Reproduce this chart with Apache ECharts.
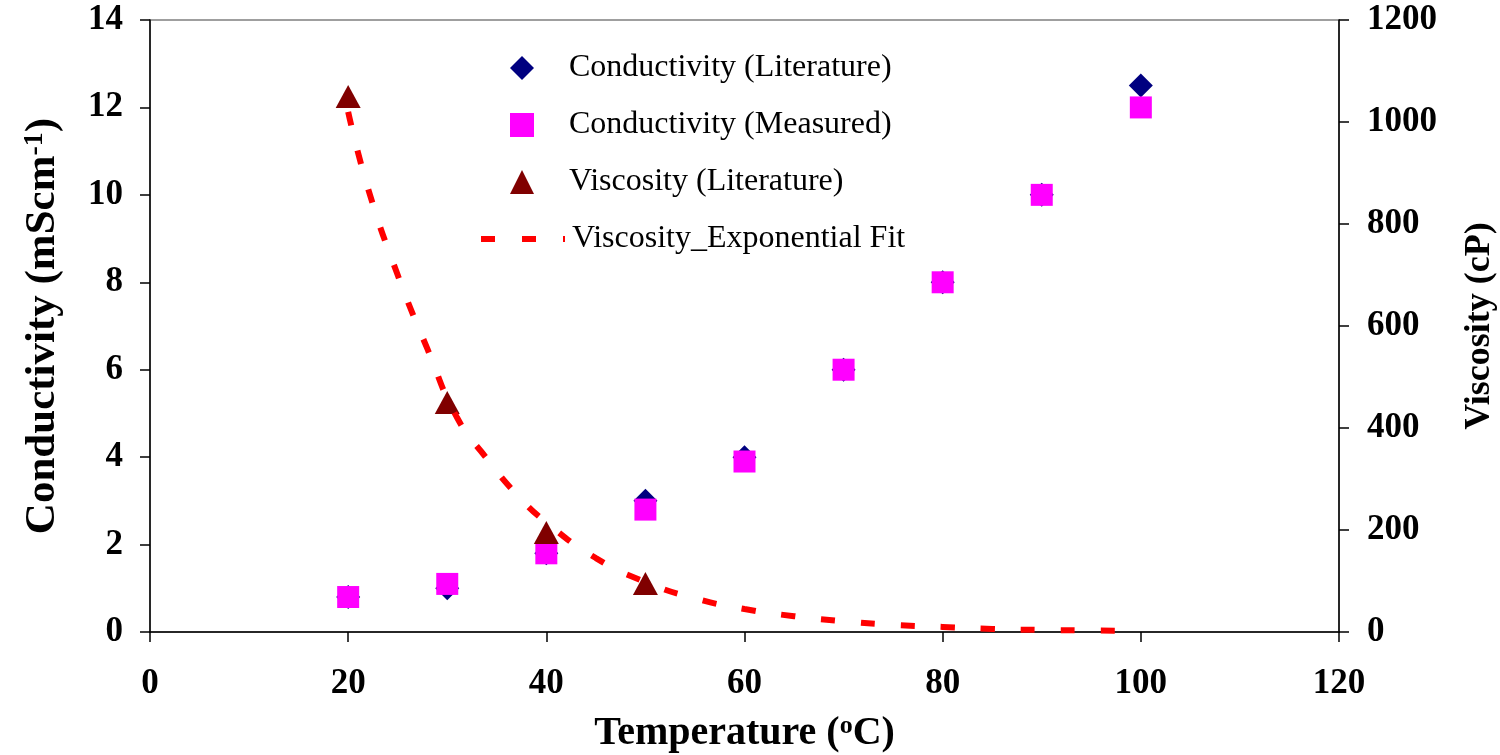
<!DOCTYPE html>
<html>
<head>
<meta charset="utf-8">
<script src="https://cdn.jsdelivr.net/npm/echarts@6/dist/echarts.min.js"></script>
<style>
  html, body { margin: 0; padding: 0; background: #fff; }
  #chart { width: 1500px; height: 755px; }
</style>
</head>
<body>
<div id="chart"></div>
<script>
/* ── Data ─────────────────────────────────────────────────────────── */
const temps = [20, 30, 40, 50, 60, 70, 80, 90, 100];
const condLiterature = [0.8, 1.0, 1.8, 3.0, 4.0, 6.0, 8.0, 10.0, 12.5];
const condMeasured = [0.8, 1.1, 1.8, 2.8, 3.9, 6.0, 8.0, 10.0, 12.0];

const viscTemps = [20, 30, 40, 50];
const viscLiterature = [1050, 450, 195, 95];

// fitted curve
const fitTemps = [20, 22, 25, 28, 31, 34, 37, 40, 45, 50, 55, 60, 65, 70, 75, 80, 85, 90, 95, 99];
const fitValues = [1020, 870, 700, 555, 420, 340, 270, 215, 145, 98, 66, 45, 31, 21, 14, 10, 6, 4, 3, 2];

const xTicks = { min: 0, max: 120, interval: 20 };
const yLeftTicks = { min: 0, max: 14, interval: 2 };
const yRightTicks = { min: 0, max: 1200, interval: 200 };

const scatterNames = ['Conductivity (Literature)', 'Conductivity (Measured)', 'Viscosity (Literature)'];
const fitName = 'Viscosity_Exponential Fit';

/* ── Helpers ──────────────────────────────────────────────────────── */
const FONT = "'Liberation Serif', 'Times New Roman', serif";
const pairs = (xs, ys) => xs.map((x, i) => [x, ys[i]]);

const axisCommon = {
    axisLine: { show: true, lineStyle: { color: '#000', width: 1.5 } },
    axisTick: { show: true, inside: false, length: 10, lineStyle: { color: '#000', width: 1.5 } },
    splitLine: { show: false },
    axisLabel: { color: '#000', fontFamily: FONT, fontWeight: 'bold', fontSize: 35 },
    nameTextStyle: { color: '#000', fontFamily: FONT, fontWeight: 'bold', fontSize: 38 }
};

const richTitle = (size) => ({
    n: { fontFamily: FONT, fontWeight: 'bold', fontSize: size, color: '#000' },
    s: { fontFamily: FONT, fontWeight: 'bold', fontSize: Math.round(size * 0.65), color: '#000', verticalAlign: 'top', padding: [0, 0, 16, 0] }
});

const legendText = { fontFamily: FONT, fontSize: 32, color: '#000', lineHeight: 34 };

const chart = echarts.init(document.getElementById('chart'), null, { renderer: 'canvas' });

chart.setOption({
    backgroundColor: '#fff',
    animation: false,
    grid: {
        left: 150, right: 161, top: 20, bottom: 123,
        containLabel: false,
        outerBoundsMode: 'none',
        show: true, borderColor: '#808080', borderWidth: 1.5, backgroundColor: 'transparent'
    },
    legend: [
        {
            orient: 'vertical',
            left: 505, top: 46,
            itemWidth: 24, itemHeight: 24, itemGap: 23,
            textStyle: { ...legendText, padding: [0, 0, 0, 30] },
            data: scatterNames
        },
        {
            orient: 'vertical',
            left: 476, top: 217,
            itemWidth: 84, itemHeight: 6,
            textStyle: { ...legendText, padding: [0, 0, 0, 2] },
            data: [{
                name: fitName,
                icon: 'path://M0,0 L14,0 L14,6 L0,6 Z M41,0 L55,0 L55,6 L41,6 Z M82,0 L84,0 L84,6 L82,6 Z'
            }]
        }
    ],
    xAxis: {
        ...axisCommon,
        type: 'value',
        ...xTicks,
        axisLabel: { ...axisCommon.axisLabel, margin: 34 },
        name: '{n|Temperature (}{s|o}{n|C)}',
        nameLocation: 'middle',
        nameGap: 81,
        nameTextStyle: { ...axisCommon.nameTextStyle, fontSize: 40, rich: richTitle(40) }
    },
    yAxis: [
        {
            ...axisCommon,
            type: 'value',
            position: 'left',
            ...yLeftTicks,
            axisLabel: { ...axisCommon.axisLabel, margin: 27 },
            name: '{n|Conductivity (mScm}{s|-1}{n|)}',
            nameLocation: 'middle',
            nameRotate: 90,
            nameGap: 85,
            nameTextStyle: { ...axisCommon.nameTextStyle, fontSize: 43, rich: richTitle(43) }
        },
        {
            ...axisCommon,
            type: 'value',
            position: 'right',
            ...yRightTicks,
            axisLabel: { ...axisCommon.axisLabel, margin: 28, formatter: v => String(v) },
            name: 'Viscosity (cP)',
            nameLocation: 'middle',
            nameRotate: 90,
            nameGap: 123,
            nameTextStyle: { ...axisCommon.nameTextStyle, fontSize: 36 }
        }
    ],
    series: [
        {
            name: scatterNames[0],
            type: 'scatter',
            yAxisIndex: 0,
            symbol: 'diamond',
            symbolSize: 24,
            itemStyle: { color: '#000080', opacity: 1 },
            data: pairs(temps, condLiterature),
            z: 2
        },
        {
            name: scatterNames[1],
            type: 'scatter',
            yAxisIndex: 0,
            symbol: 'rect',
            symbolSize: 22,
            itemStyle: { color: '#ff00ff', opacity: 1 },
            data: pairs(temps, condMeasured),
            z: 3
        },
        {
            name: scatterNames[2],
            type: 'scatter',
            yAxisIndex: 1,
            symbol: 'triangle',
            symbolSize: [25, 23],
            itemStyle: { color: '#800000', opacity: 1 },
            data: pairs(viscTemps, viscLiterature),
            z: 4
        },
        {
            name: fitName,
            type: 'line',
            yAxisIndex: 1,
            smooth: true,
            symbol: 'none',
            showSymbol: false,
            lineStyle: { color: '#ff0000', width: 6, type: [14, 26] },
            itemStyle: { color: '#ff0000' },
            data: pairs(fitTemps, fitValues),
            z: 5
        }
    ]
});
</script>
</body>
</html>
